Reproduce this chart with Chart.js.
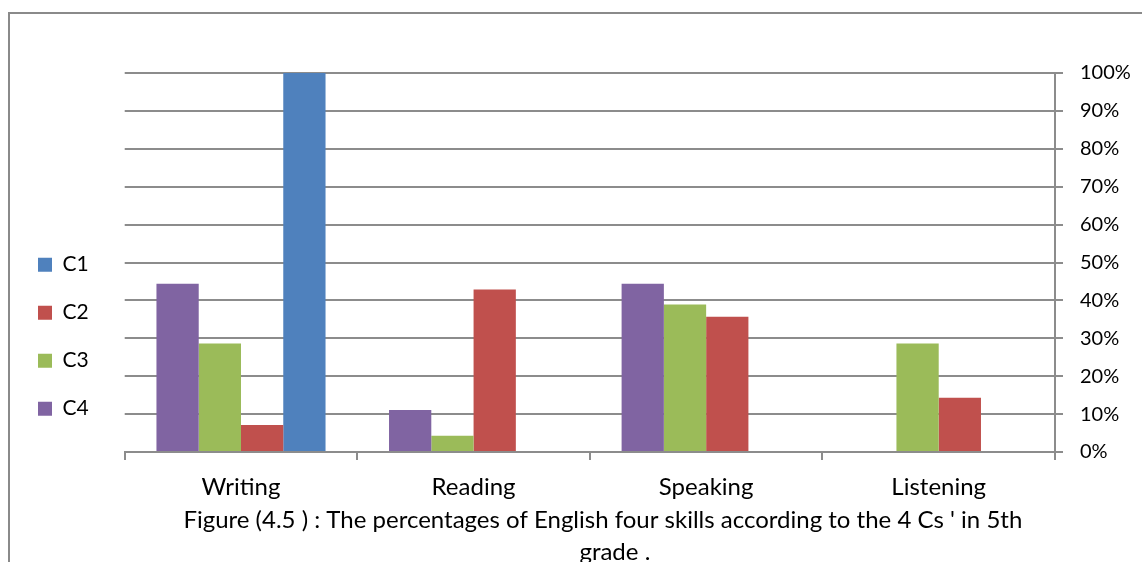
<!DOCTYPE html>
<html>
<head>
<meta charset="utf-8">
<script src="https://cdn.jsdelivr.net/npm/chart.js@4"></script>
<style>
  html, body { margin: 0; padding: 0; background: #fff; overflow: hidden; }
  #wrap { position: relative; width: 1142px; height: 562px; }
  #chart { position: absolute; left: 0; top: 0; }
  .frame {
    position: absolute; left: 8px; top: 12px; right: -20px; bottom: -20px;
    border-left: 2px solid #8a8a8a; border-top: 2px solid #8a8a8a;
    pointer-events: none;
  }
</style>
</head>
<body>
<div id="wrap">
  <canvas id="chart" width="1142" height="562"></canvas>
  <div class="frame"></div>
</div>
<script>
// Skills on the category axis
const skills = ['Writing', 'Reading', 'Speaking', 'Listening'];

// Share of each C per skill, in percent
const c1 = [100, 0, 0, 0];
const c2 = [7.1, 42.9, 35.7, 14.3];
const c3 = [28.6, 4.3, 38.9, 28.6];
const c4 = [44.4, 11.1, 44.4, 0];

// Percent axis ticks
const percentTicks = [0, 10, 20, 30, 40, 50, 60, 70, 80, 90, 100];

const captionLines = [
  "Figure (4.5 ) : The percentages of English four skills according to the 4 Cs ' in 5th",
  'grade .'
];

const FONT = 'Lato, "Open Sans", sans-serif';
const GRID = '#8c8c8c';

// Figure caption under the axis labels
const captionPlugin = {
  id: 'caption',
  afterDraw(chart) {
    const { ctx, chartArea } = chart;
    ctx.save();
    ctx.fillStyle = '#000';
    ctx.font = '24px ' + FONT;
    ctx.textAlign = 'center';
    ctx.textBaseline = 'middle';
    const cx = (chartArea.left + chartArea.right) / 2;
    ctx.fillText(captionLines[0], cx + 13, chartArea.bottom + 68);
    ctx.fillText(captionLines[1], cx + 25, chartArea.bottom + 100);
    ctx.restore();
  }
};

new Chart(document.getElementById('chart'), {
  type: 'bar',
  data: {
    labels: skills,
    datasets: [
      { label: 'C4', data: c4, backgroundColor: '#8064A2' },
      { label: 'C3', data: c3, backgroundColor: '#9BBB59' },
      { label: 'C2', data: c2, backgroundColor: '#C0504D' },
      { label: 'C1', data: c1, backgroundColor: '#4F81BD' }
    ]
  },
  options: {
    responsive: false,
    animation: false,
    events: [],
    layout: { padding: { left: 11, top: 73, right: 0, bottom: 60 } },
    datasets: {
      bar: { categoryPercentage: 0.727, barPercentage: 1.0, borderWidth: 0, yAxisID: 'y' }
    },
    plugins: {
      tooltip: { enabled: false },
      title: { display: false },
      legend: {
        position: 'left',
        reverse: true,
        title: { display: true, text: ' ', font: { size: 12 }, padding: { top: 0, bottom: 84 } },
        labels: {
          boxWidth: 14,
          boxHeight: 14,
          padding: 27,
          color: '#000',
          font: { family: FONT, size: 21 }
        }
      }
    },
    scales: {
      x: {
        position: 'bottom',
        grid: {
          offset: true,
          drawOnChartArea: false,
          drawTicks: true,
          tickLength: 8,
          color: GRID,
          lineWidth: 2
        },
        border: { display: true, color: GRID, width: 2 },
        ticks: { color: '#000', padding: 13, font: { family: FONT, size: 24 } },
        afterFit(s) { s.height = 50; }
      },
      y: {
        position: 'right',
        min: 0,
        max: 100,
        afterBuildTicks(s) { s.ticks = percentTicks.map(v => ({ value: v })); },
        grid: { color: GRID, lineWidth: 2, tickLength: 8, drawTicks: true },
        border: { display: true, color: GRID, width: 2 },
        ticks: {
          color: '#000',
          padding: 17,
          font: { family: FONT, size: 20 },
          callback: v => v + '%'
        },
        afterFit(s) { s.width = 87; }
      },
      spacer: {
        type: 'linear',
        position: 'left',
        display: true,
        grid: { display: false },
        border: { display: false },
        ticks: { display: false },
        afterFit(s) { s.width = 26; }
      }
    }
  },
  plugins: [captionPlugin]
});
</script>
</body>
</html>
